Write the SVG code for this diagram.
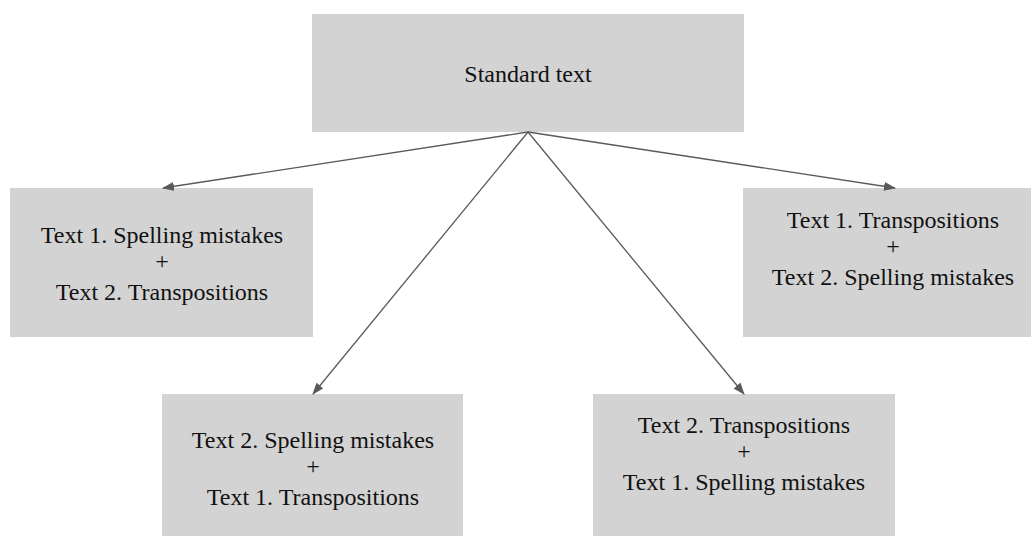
<svg xmlns="http://www.w3.org/2000/svg" width="1031" height="536" viewBox="0 0 1031 536">
<style>
.box{fill:#d3d3d3}
.lbl{font-family:"Liberation Serif","Times New Roman",serif;font-size:24px;fill:#111;text-anchor:middle}
.conn{stroke:#5a5a5a;stroke-width:1.3;fill:none;marker-end:url(#ah)}
</style>
<defs>
<marker id="ah" markerWidth="12" markerHeight="10" refX="11" refY="4.5" orient="auto" markerUnits="userSpaceOnUse">
<path d="M0,0 L12,4.5 L0,9 Z" fill="#5a5a5a"/>
</marker>
</defs>
<rect width="1031" height="536" fill="#ffffff"/>
<g id="n-standard">
<rect class="box" x="312" y="14" width="432" height="118"/>
<text class="lbl" x="528" y="82">Standard text</text>
</g>
<g id="n-left">
<rect class="box" x="10" y="188" width="303" height="149"/>
<text class="lbl" x="162" y="243">Text 1. Spelling mistakes</text>
<text class="lbl" x="162" y="269">+</text>
<text class="lbl" x="162" y="300">Text 2. Transpositions</text>
</g>
<g id="n-right">
<rect class="box" x="743" y="188" width="288" height="149"/>
<text class="lbl" x="893" y="228">Text 1. Transpositions</text>
<text class="lbl" x="893" y="254">+</text>
<text class="lbl" x="893" y="285">Text 2. Spelling mistakes</text>
</g>
<g id="n-bottom-left">
<rect class="box" x="162" y="394" width="301" height="142"/>
<text class="lbl" x="313" y="448">Text 2. Spelling mistakes</text>
<text class="lbl" x="313" y="474">+</text>
<text class="lbl" x="313" y="505">Text 1. Transpositions</text>
</g>
<g id="n-bottom-right">
<rect class="box" x="593" y="394" width="302" height="142"/>
<text class="lbl" x="744" y="433">Text 2. Transpositions</text>
<text class="lbl" x="744" y="459">+</text>
<text class="lbl" x="744" y="490">Text 1. Spelling mistakes</text>
</g>
<g id="connectors">
<line class="conn" x1="528" y1="132" x2="163" y2="188"/>
<line class="conn" x1="528" y1="132" x2="895" y2="188"/>
<line class="conn" x1="528" y1="132" x2="313" y2="394"/>
<line class="conn" x1="528" y1="132" x2="744" y2="394"/>
</g>
</svg>
